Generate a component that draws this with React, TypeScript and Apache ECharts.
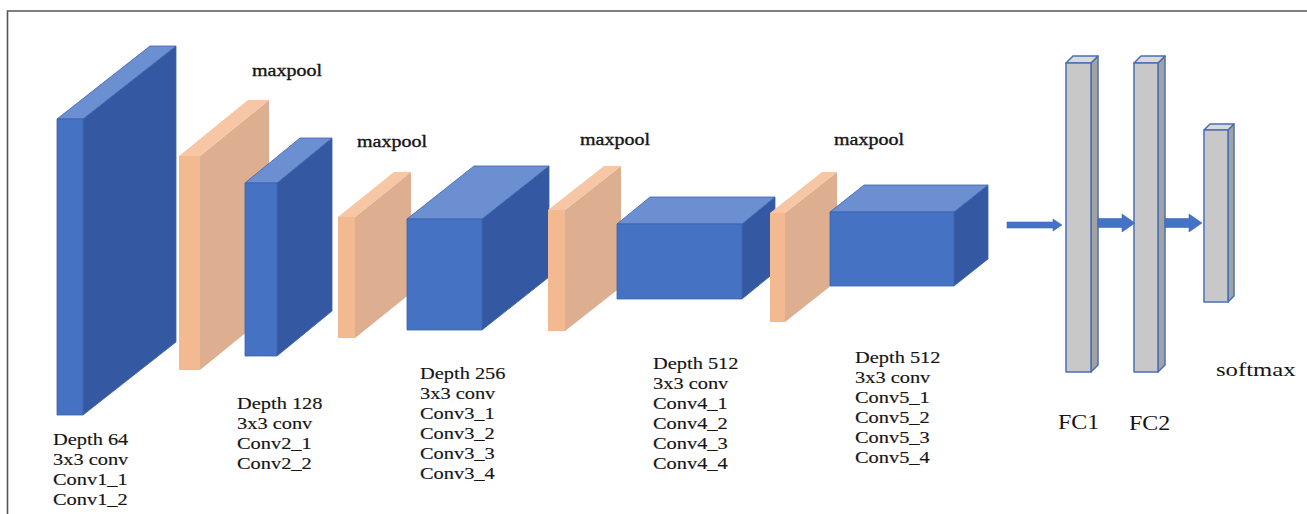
import React, { useEffect, useRef } from "react";
import * as echarts from "echarts";

const W = 1307;
const H = 514;

// layer blocks (diagram units = axis units)
const layerKinds = [0, 1, 0, 1, 0, 1, 0, 1, 0, 2, 2, 2]; // 0 conv, 1 maxpool, 2 dense
const faceLeft = [57, 179, 245, 338, 407, 548, 617, 770, 830, 1066, 1134, 1204];
const faceTop = [119, 156, 183, 217, 219, 210, 224, 213, 212, 63, 63, 130];
const faceRight = [83, 200, 277, 355, 482, 565, 742, 785, 954, 1091, 1158, 1228];
const faceBottom = [415, 370, 356, 338, 330, 331, 299, 322, 286, 372, 372, 302];
const depthDX = [93, 69, 55, 56, 67, 56, 33, 52, 34, 7, 7, 6];
const depthDY = [73, 56, 45, 45, 53, 44, 27, 41, 27, 7, 7, 6];

// arrows
const arrowFrom = [1007, 1098, 1165];
const arrowTo = [1062, 1135, 1202];
const arrowY = [225, 223, 223];
const arrowShaft = [6, 9, 9];
const arrowHead = [12, 18, 18];
const arrowHeadLen = [9, 13, 13];

// maxpool labels
const poolLabel = "maxpool";
const poolLabelX = [287, 392, 615, 869];
const poolLabelY = [71, 142, 140, 140];

// layer captions
const captions = [
  ["Depth 64", "3x3 conv", "Conv1_1", "Conv1_2"],
  ["Depth 128", "3x3 conv", "Conv2_1", "Conv2_2"],
  ["Depth 256", "3x3 conv", "Conv3_1", "Conv3_2", "Conv3_3", "Conv3_4"],
  ["Depth 512", "3x3 conv", "Conv4_1", "Conv4_2", "Conv4_3", "Conv4_4"],
  ["Depth 512", "3x3 conv", "Conv5_1", "Conv5_2", "Conv5_3", "Conv5_4"],
];
const captionX = [53, 237, 420, 653, 855];
const captionY = [439, 403, 373, 363, 357];
const captionStep = 20;

// dense labels
const denseLabels = ["FC1", "FC2", "softmax"];
const denseLabelX = [1058, 1129, 1216];
const denseLabelY = [422, 423, 370];
const denseLabelSize = [20, 20, 19];
const denseLabelScale = [1.2, 1.2, 1.3];

const kindColors = [
  { front: "#4572c2", top: "#6b8fd0", side: "#3459a2", stroke: "#3a63ae", lw: 0.8 },
  { front: "#f3b990", top: "#f6c6a5", side: "#ddae90", stroke: "none", lw: 0 },
  { front: "#c8c8c8", top: "#dadada", side: "#a2a2a2", stroke: "#4a6fb5", lw: 1.5 },
];

const FONT = "Liberation Serif";
const TEXT_COLOR = "#151515";

export default function App() {
  const ref = useRef<HTMLDivElement>(null);

  useEffect(() => {
    if (!ref.current) return;
    const chart = echarts.init(ref.current, null, { renderer: "svg" });

    const blockData = layerKinds.map((k, i) => [
      faceLeft[i], faceTop[i], faceRight[i], faceBottom[i], depthDX[i], depthDY[i], k,
    ]);
    const arrowData = arrowFrom.map((f, i) => [
      f, arrowTo[i], arrowY[i], arrowShaft[i], arrowHead[i], arrowHeadLen[i],
    ]);

    type Lbl = {
      text: string; x: number; y: number; size: number; scale: number; align: string; weight: number;
    };
    const labels: Lbl[] = [];
    poolLabelX.forEach((x, i) =>
      labels.push({
        text: poolLabel, x, y: poolLabelY[i], size: 16, scale: 1.25, align: "center", weight: 0.35,
      })
    );
    captions.forEach((lines, c) =>
      lines.forEach((t, j) =>
        labels.push({
          text: t, x: captionX[c], y: captionY[c] + j * captionStep, size: 17, scale: 1.2,
          align: "left", weight: 0.15,
        })
      )
    );
    denseLabels.forEach((t, i) =>
      labels.push({
        text: t, x: denseLabelX[i], y: denseLabelY[i], size: denseLabelSize[i],
        scale: denseLabelScale[i], align: "left", weight: 0,
      })
    );
    const labelData = labels.map((l) => [l.x, l.y]);

    const option: any = {
      animation: false,
      backgroundColor: "#ffffff",
      textStyle: { fontFamily: FONT },
      grid: { left: 0, right: 0, top: 0, bottom: 0 },
      xAxis: { type: "value", min: 0, max: W, show: false },
      yAxis: { type: "value", min: 0, max: H, inverse: true, show: false },
      graphic: [
        {
          type: "polyline",
          shape: { points: [[7.5, H], [7.5, 11], [W, 11]] },
          style: { stroke: "#555555", lineWidth: 1.6, fill: "none" },
          silent: true,
        },
      ],
      series: [
        {
          type: "custom",
          coordinateSystem: "cartesian2d",
          data: blockData,
          renderItem: (params: any, api: any) => {
            const x0 = api.value(0), y0 = api.value(1), x1 = api.value(2), y1 = api.value(3);
            const dx = api.value(4), dy = api.value(5), k = api.value(6);
            const c = kindColors[k];
            const p = (x: number, y: number) => api.coord([x, y]);
            const st = (fill: string) => ({
              fill, stroke: c.stroke, lineWidth: c.lw, lineJoin: "round",
            });
            return {
              type: "group",
              children: [
                {
                  type: "polygon",
                  shape: { points: [p(x1, y0), p(x1 + dx, y0 - dy), p(x1 + dx, y1 - dy), p(x1, y1)] },
                  style: st(c.side),
                },
                {
                  type: "polygon",
                  shape: { points: [p(x0, y0), p(x0 + dx, y0 - dy), p(x1 + dx, y0 - dy), p(x1, y0)] },
                  style: st(c.top),
                },
                {
                  type: "polygon",
                  shape: { points: [p(x0, y0), p(x1, y0), p(x1, y1), p(x0, y1)] },
                  style: st(c.front),
                },
              ],
            };
          },
        },
        {
          type: "custom",
          coordinateSystem: "cartesian2d",
          data: arrowData,
          renderItem: (params: any, api: any) => {
            const f = api.value(0), t = api.value(1), y = api.value(2);
            const s = api.value(3) / 2, h = api.value(4) / 2, hl = api.value(5);
            const p = (x: number, yy: number) => api.coord([x, yy]);
            return {
              type: "polygon",
              shape: {
                points: [
                  p(f, y - s), p(t - hl, y - s), p(t - hl, y - h), p(t, y),
                  p(t - hl, y + h), p(t - hl, y + s), p(f, y + s),
                ],
              },
              style: { fill: "#4472c4", stroke: "#3f6bb8", lineWidth: 0.6 },
            };
          },
        },
        {
          type: "custom",
          coordinateSystem: "cartesian2d",
          data: labelData,
          renderItem: (params: any, api: any) => {
            const l = labels[params.dataIndex];
            const pt = api.coord([api.value(0), api.value(1)]);
            const style: any = {
              text: l.text,
              x: 0,
              y: 0,
              fill: TEXT_COLOR,
              fontFamily: FONT,
              fontSize: l.size,
              textAlign: l.align,
              textVerticalAlign: "middle",
            };
            if (l.weight > 0) {
              style.stroke = TEXT_COLOR;
              style.lineWidth = l.weight;
            }
            return {
              type: "text",
              x: pt[0],
              y: pt[1],
              scaleX: l.scale,
              style,
            };
          },
        },
      ],
    };

    chart.setOption(option);
    return () => chart.dispose();
  }, []);

  return (
    <div
      ref={ref}
      style={{ position: "absolute", left: 0, top: 0, width: W, height: H, background: "#fff" }}
    />
  );
}
